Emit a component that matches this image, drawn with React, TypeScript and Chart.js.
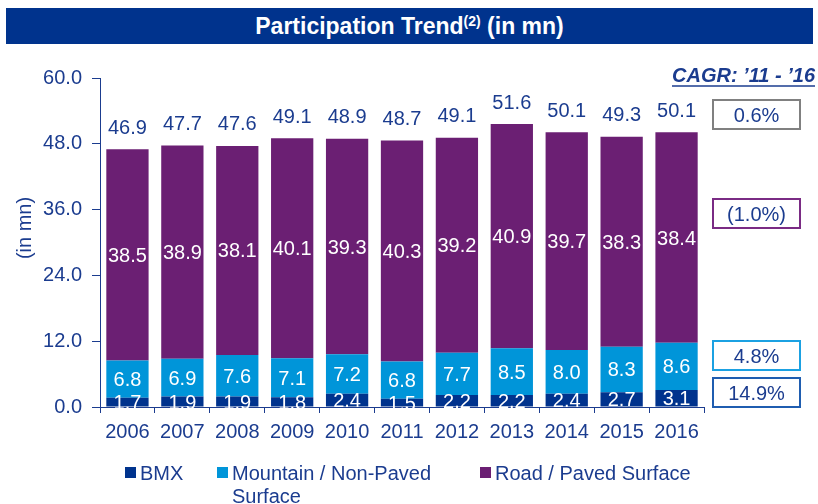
import React, { useEffect, useRef } from 'react';
import { Chart, registerables } from 'chart.js';

Chart.register(...registerables);

const years = ['2006', '2007', '2008', '2009', '2010', '2011', '2012', '2013', '2014', '2015', '2016'];
const bmx = [1.7, 1.9, 1.9, 1.8, 2.4, 1.5, 2.2, 2.2, 2.4, 2.7, 3.1];
const mountain = [6.8, 6.9, 7.6, 7.1, 7.2, 6.8, 7.7, 8.5, 8.0, 8.3, 8.6];
const road = [38.5, 38.9, 38.1, 40.1, 39.3, 40.3, 39.2, 40.9, 39.7, 38.3, 38.4];
const totals = [46.9, 47.7, 47.6, 49.1, 48.9, 48.7, 49.1, 51.6, 50.1, 49.3, 50.1];
const seriesNames = ['BMX', 'Mountain / Non-Paved\nSurface', 'Road / Paved Surface'];
const cagrTitle = 'CAGR: \u201911 - \u201916';
const cagrLabels = ['0.6%', '(1.0%)', '4.8%', '14.9%'];

const FONT = '"Liberation Sans", Arial, sans-serif';
const TEXT_BLUE = '#1B3C8F';
const C_BMX = '#00338D';
const C_MTN = '#0095D9';
const C_ROAD = '#6B1F73';
const seriesColors = [C_BMX, C_MTN, C_ROAD];
const cagrBorders = ['#808080', '#7A2B84', '#1BA1E2', '#1F5DB0'];
const cagrBoxY = [100, 199, 341, 378];

const overlay = {
  id: 'overlay',
  afterDatasetsDraw(chart: any) {
    const ctx = chart.ctx as CanvasRenderingContext2D;
    ctx.save();
    ctx.font = `20px ${FONT}`;
    ctx.textAlign = 'center';
    ctx.textBaseline = 'alphabetic';
    chart.data.datasets.forEach((ds: any, di: number) => {
      const meta = chart.getDatasetMeta(di);
      meta.data.forEach((el: any, i: number) => {
        const p = el.getProps(['x', 'y', 'base'], true);
        ctx.fillStyle = '#ffffff';
        ctx.fillText(Number(ds.data[i]).toFixed(1), p.x, (p.y + p.base) / 2 + 7);
      });
    });
    const topMeta = chart.getDatasetMeta(chart.data.datasets.length - 1);
    topMeta.data.forEach((el: any, i: number) => {
      const p = el.getProps(['x', 'y'], true);
      ctx.fillStyle = TEXT_BLUE;
      ctx.fillText(totals[i].toFixed(1), p.x, p.y - 15.5);
    });
    ctx.restore();
  },
  afterDraw(chart: any) {
    const ctx = chart.ctx as CanvasRenderingContext2D;
    const area = chart.chartArea;
    ctx.save();
    // y-axis title
    ctx.fillStyle = TEXT_BLUE;
    ctx.font = `20px ${FONT}`;
    ctx.textAlign = 'center';
    ctx.textBaseline = 'middle';
    ctx.translate(25, 228);
    ctx.rotate(-Math.PI / 2);
    ctx.fillText('(in mn)', 0, 0);
    ctx.restore();

    ctx.save();
    // CAGR title
    ctx.font = `italic bold 20px ${FONT}`;
    ctx.fillStyle = TEXT_BLUE;
    ctx.textAlign = 'right';
    ctx.textBaseline = 'alphabetic';
    const tx = 815;
    ctx.fillText(cagrTitle, tx, 82);
    const w = ctx.measureText(cagrTitle).width;
    ctx.strokeStyle = TEXT_BLUE;
    ctx.lineWidth = 1.5;
    ctx.beginPath();
    ctx.moveTo(tx - w, 86);
    ctx.lineTo(tx, 86);
    ctx.stroke();

    // CAGR boxes
    ctx.font = `20px ${FONT}`;
    ctx.textAlign = 'center';
    cagrLabels.forEach((lab, i) => {
      const bx = area.right + 9;
      const by = cagrBoxY[i];
      const bw = 87;
      const bh = 29;
      ctx.strokeStyle = cagrBorders[i];
      ctx.lineWidth = 2;
      ctx.strokeRect(bx, by, bw, bh);
      ctx.fillStyle = TEXT_BLUE;
      ctx.fillText(lab, bx + bw / 2, by + bh / 2 + 7);
    });

    // Legend
    const legendX = [125, 217, 480];
    ctx.textAlign = 'left';
    seriesNames.forEach((name, i) => {
      ctx.fillStyle = seriesColors[i];
      ctx.fillRect(legendX[i], 467, 11, 11);
      ctx.fillStyle = TEXT_BLUE;
      name.split('\n').forEach((line, li) => {
        ctx.fillText(line, legendX[i] + 15, 480 + li * 23);
      });
    });
    ctx.restore();
  },
};

export default function App() {
  const ref = useRef<HTMLCanvasElement>(null);
  useEffect(() => {
    if (!ref.current) return;
    const chart = new Chart(ref.current, {
      type: 'bar',
      data: {
        labels: years,
        datasets: [
          { label: 'BMX', data: bmx, backgroundColor: C_BMX, borderWidth: 0 },
          { label: 'Mountain / Non-Paved Surface', data: mountain, backgroundColor: C_MTN, borderWidth: 0 },
          { label: 'Road / Paved Surface', data: road, backgroundColor: C_ROAD, borderWidth: 0 },
        ],
      },
      options: {
        responsive: false,
        animation: false,
        devicePixelRatio: 1,
        layout: { padding: { top: 78, right: 114, left: 0, bottom: 0 } },
        plugins: { legend: { display: false }, tooltip: { enabled: false }, title: { display: false } },
        datasets: { bar: { barPercentage: 0.77, categoryPercentage: 1 } },
        scales: {
          x: {
            stacked: true,
            afterFit: (s: any) => { s.height = 97; },
            grid: { offset: true, drawOnChartArea: false, drawTicks: true, tickLength: 6, color: TEXT_BLUE },
            border: { display: true, color: TEXT_BLUE, width: 1 },
            ticks: { color: TEXT_BLUE, font: { family: FONT, size: 20 }, padding: 7, maxRotation: 0, autoSkip: false },
          },
          y: {
            stacked: true,
            min: 0,
            max: 60,
            afterFit: (s: any) => { s.width = 100; },
            grid: { drawOnChartArea: false, drawTicks: true, tickLength: 8, color: TEXT_BLUE },
            border: { display: true, color: TEXT_BLUE, width: 1 },
            ticks: {
              stepSize: 12,
              color: TEXT_BLUE,
              font: { family: FONT, size: 20 },
              padding: 10,
              callback: (v: any) => Number(v).toFixed(1),
            },
          },
        },
      },
      plugins: [overlay],
    });
    return () => chart.destroy();
  }, []);

  return (
    <div style={{ position: 'fixed', left: 0, top: 0, width: 818, height: 504, background: '#fff' }}>
      <canvas ref={ref} width={818} height={504} style={{ display: 'block', position: 'absolute', left: 0, top: 0 }} />
      <div
        style={{
          position: 'absolute',
          left: 6,
          top: 8,
          width: 807,
          height: 36,
          background: '#00338D',
          color: '#fff',
          fontFamily: FONT,
          fontWeight: 'bold',
          fontSize: 23,
          lineHeight: '36px',
          textAlign: 'center',
          whiteSpace: 'nowrap',
        }}
      >
        Participation Trend<sup style={{ fontSize: 14, lineHeight: 0, verticalAlign: 'baseline', position: 'relative', top: -8 }}>(2)</sup> (in mn)
      </div>
    </div>
  );
}
